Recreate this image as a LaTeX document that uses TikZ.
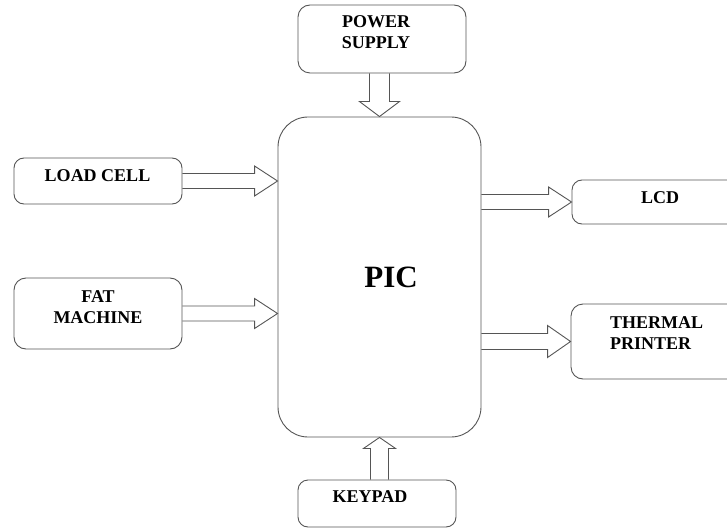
\documentclass[tikz,border=0pt]{standalone}
\usepackage{fontspec}
\setmainfont{Liberation Serif}
\usetikzlibrary{calc}
\definecolor{linec}{HTML}{555555}
\tikzset{
  box/.style={draw=linec, line width=0.9pt, rounded corners=#1, inner sep=0pt},
  box/.default=10pt,
  lbl/.style={inner sep=0pt, align=center, font=\fontsize{18}{21}\selectfont\bfseries},
  blk/.style={draw=linec, line width=0.9pt, line join=miter}
}
\begin{document}
\begin{tikzpicture}[x=1pt,y=-1pt]
\useasboundingbox (0,0) rectangle (727,529);
% boxes
\node[box=12pt, minimum width=168pt, minimum height=68pt] (pwr) at (382,39) {};
\node[box=30pt, minimum width=203pt, minimum height=320pt] (pic) at (379.5,277) {};
\node[box, minimum width=168pt, minimum height=46pt] (load) at (98,181) {};
\node[box=12pt, minimum width=168pt, minimum height=71pt] (fat) at (98,313.5) {};
\node[box, minimum width=175pt, minimum height=44pt] (lcd) at (659.5,202) {};
\node[box=12pt, minimum width=175pt, minimum height=75pt] (prn) at (658.5,341.5) {};
\node[box, minimum width=158pt, minimum height=47pt] (kp) at (377,503.5) {};
% texts
\node[lbl] (pwrt) at (376,32.5) {POWER\\SUPPLY};
\node[lbl] (loadt) at (97.5,176) {LOAD CELL};
\node[lbl] (fatt) at (98,307.5) {FAT\\MACHINE};
\node[inner sep=0pt, font=\fontsize{31}{31}\selectfont\bfseries] (pict) at (391,277) {PIC};
\node[lbl] (lcdt) at (660,198) {LCD};
\node[lbl, align=left, anchor=west] (prnt) at (610,333) {THERMAL\\PRINTER};
\node[lbl] (kpt) at (370,497) {KEYPAD};
% horizontal block arrows
\draw[blk] let \p1=(load.east), \p2=(pic.west) in
  (\x1,\y1+7.5pt) -- (\x2-23pt,\y1+7.5pt) -- (\x2-23pt,\y1+15pt) -- (\x2,\y1)
  -- (\x2-23pt,\y1-15pt) -- (\x2-23pt,\y1-7.5pt) -- (\x1,\y1-7.5pt);
\draw[blk] let \p1=(fat.east), \p2=(pic.west) in
  (\x1,\y1+7.5pt) -- (\x2-23pt,\y1+7.5pt) -- (\x2-23pt,\y1+15pt) -- (\x2,\y1)
  -- (\x2-23pt,\y1-15pt) -- (\x2-23pt,\y1-7.5pt) -- (\x1,\y1-7.5pt);
\draw[blk] let \p1=(pic.east), \p2=(lcd.west) in
  (\x1,\y2+7.5pt) -- (\x2-23pt,\y2+7.5pt) -- (\x2-23pt,\y2+15pt) -- (\x2,\y2)
  -- (\x2-23pt,\y2-15pt) -- (\x2-23pt,\y2-7.5pt) -- (\x1,\y2-7.5pt);
\draw[blk] let \p1=(pic.east), \p2=(prn.west) in
  (\x1,\y2+8pt) -- (\x2-23pt,\y2+8pt) -- (\x2-23pt,\y2+16pt) -- (\x2,\y2)
  -- (\x2-23pt,\y2-16pt) -- (\x2-23pt,\y2-8pt) -- (\x1,\y2-8pt);
% vertical block arrows
\draw[blk] let \p1=(pwr.south), \p2=(pic.north) in
  (\x2-10pt,\y1) -- (\x2-10pt,\y2+15pt) -- (\x2-20pt,\y2+15pt) -- (\x2,\y2)
  -- (\x2+20pt,\y2+15pt) -- (\x2+10pt,\y2+15pt) -- (\x2+10pt,\y1);
\draw[blk] let \p1=(kp.north), \p2=(pic.south) in
  (\x2-9pt,\y1) -- (\x2-9pt,\y2-11pt) -- (\x2-16pt,\y2-11pt) -- (\x2,\y2)
  -- (\x2+16pt,\y2-11pt) -- (\x2+9pt,\y2-11pt) -- (\x2+9pt,\y1);
\end{tikzpicture}
\end{document}
